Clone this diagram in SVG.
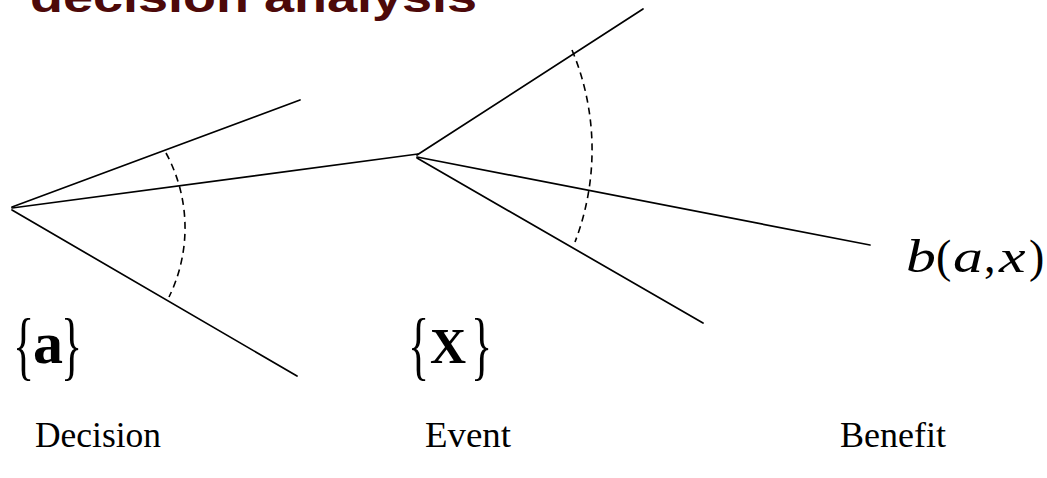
<svg xmlns="http://www.w3.org/2000/svg" width="1047" height="478" viewBox="0 0 1047 478">
<style>
.ln{stroke:#000;stroke-width:1.7;fill:none;stroke-linecap:round}
.dash{stroke:#000;stroke-width:1.6;fill:none;stroke-dasharray:7 5}
.serif{font-family:"Liberation Serif","Times New Roman",serif;fill:#000}
.lbl{font-family:"Liberation Serif","Times New Roman",serif;font-size:35px;fill:#000}
</style>
<rect width="1047" height="478" fill="#fff"/>
<text id="title" x="30" y="12" font-family="Liberation Sans, Arial, sans-serif" font-weight="bold" font-size="42" fill="#4d0909" textLength="447" lengthAdjust="spacingAndGlyphs">decision analysis</text>
<g id="connectors">
<line class="ln" x1="12" y1="207" x2="300" y2="100"/>
<line class="ln" x1="12" y1="208" x2="418" y2="154"/>
<line class="ln" x1="12" y1="210" x2="297" y2="376"/>
<line class="ln" x1="417" y1="155" x2="643" y2="9"/>
<line class="ln" x1="417" y1="157" x2="870" y2="245"/>
<line class="ln" x1="417" y1="158" x2="703" y2="323"/>
<path class="dash" d="M166,153 A157,157 0 0 1 169,297"/>
<path class="dash" d="M572,50 A258,258 0 0 1 575,242"/>
</g>
<g id="decision">
<text class="serif" font-size="76" transform="translate(13,371) scale(0.58,1)">{</text>
<text class="serif" font-size="60" font-weight="bold" x="33" y="363">a</text>
<text class="serif" font-size="76" transform="translate(61,371) scale(0.58,1)">}</text>
<text class="lbl" x="35" y="447" textLength="126" lengthAdjust="spacingAndGlyphs">Decision</text>
</g>
<g id="event">
<text class="serif" font-size="76" transform="translate(408,371) scale(0.58,1)">{</text>
<text class="serif" font-size="50" font-weight="bold" x="430" y="363">X</text>
<text class="serif" font-size="76" transform="translate(471,371) scale(0.58,1)">}</text>
<text class="lbl" x="425" y="447" textLength="86" lengthAdjust="spacingAndGlyphs">Event</text>
</g>
<g id="benefit">
<text class="serif" font-size="46" font-style="italic" transform="translate(906,272) scale(1.3,1)">b</text>
<text class="serif" font-size="46" x="936" y="272">(</text>
<text class="serif" font-size="46" font-style="italic" transform="translate(953,272) scale(1.3,1)">a</text>
<text class="serif" font-size="46" x="984" y="272">,</text>
<text class="serif" font-size="46" font-style="italic" transform="translate(999,272) scale(1.3,1)">x</text>
<text class="serif" font-size="46" x="1029" y="272">)</text>
<text class="lbl" x="840" y="447" textLength="106" lengthAdjust="spacingAndGlyphs">Benefit</text>
</g>
</svg>
